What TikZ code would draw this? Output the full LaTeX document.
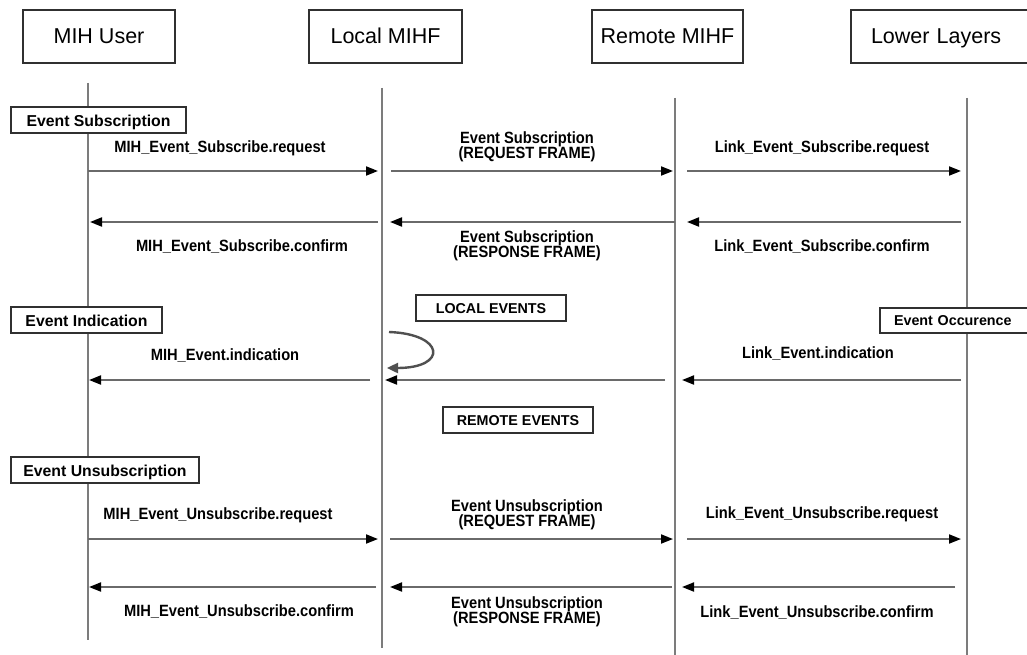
\documentclass[tikz,border=0pt]{standalone}
\usepackage{fontspec}
\setmainfont{Liberation Sans}
\newfontfamily\msgfont[FakeStretch=0.9]{Liberation Sans}
\usetikzlibrary{arrows.meta}

\definecolor{lifegray}{HTML}{7C7C7C}
\definecolor{linegray}{HTML}{6A6A6A}
\definecolor{boxline}{HTML}{303030}
\definecolor{loopgray}{HTML}{505050}

\begin{document}
\begin{tikzpicture}[x=1pt,y=-1pt,
  header/.style={draw=boxline,line width=2pt,fill=white,inner ysep=0pt,inner xsep=0pt,
    text height=17pt,text depth=3pt,
    minimum height=53pt,font=\fontsize{21.5}{25}\selectfont},
  section/.style={draw=boxline,line width=2pt,fill=white,inner sep=0pt,
    text height=14pt,text depth=1.5pt,
    minimum height=26pt,font=\fontsize{15.8}{18}\selectfont\bfseries},
  tag/.style={section,text height=12pt,text depth=2pt,
    font=\fontsize{14.3}{17}\selectfont\bfseries},
  lbl/.style={inner sep=0pt,align=center,font=\msgfont\bfseries\fontsize{16.3}{15.5}\selectfont},
  lifeline/.style={draw=lifegray,line width=1.8pt},
  msg/.style={draw=linegray,line width=1.8pt,
    -{Triangle[length=12pt,width=9pt,color=black]}},
  loopmsg/.style={draw=loopgray,line width=2.4pt,
    -{Triangle[length=11pt,width=10pt]}}]
\useasboundingbox (0,0) rectangle (1027,655);
\fill[white] (0,0) rectangle (1027,655);

% participants
\node[header,minimum width=152pt] (user)   at (99,36.5)    {MIH User};
\node[header,minimum width=153pt] (local)  at (385.5,36.5) {Local MIHF};
\node[header,minimum width=151pt] (remote) at (667.5,36.5) {Remote MIHF};
\node[header,anchor=west,text width=170pt,align=left,inner xsep=20pt]
  (lower) at (850,36.5) {Lower Layers};

% lifelines
\coordinate (uT) at (88,83);   \coordinate (uB) at (88,640);
\coordinate (lT) at (382,88);  \coordinate (lB) at (382,648);
\coordinate (rT) at (675,98);  \coordinate (rB) at (675,660);
\coordinate (wT) at (967,98);  \coordinate (wB) at (967,660);
\draw[lifeline] (uT) -- (uB);
\draw[lifeline] (lT) -- (lB);
\draw[lifeline] (rT) -- (rB);
\draw[lifeline] (wT) -- (wB);

% phase boxes
\node[section,minimum width=175pt] (subs)   at (98.5,120) {Event Subscription};
\node[section,minimum width=151pt] (indic)  at (86.5,320) {Event Indication};
\node[section,minimum width=188pt] (unsubs) at (105,470)  {Event Unsubscription};
\node[tag,minimum width=150pt] (locev) at (491,308) {LOCAL EVENTS};
\node[tag,minimum width=150pt] (remev) at (518,420) {REMOTE EVENTS};
\node[tag,anchor=west,text width=160pt,align=left,inner xsep=14pt,minimum height=25pt]
  (occur) at (879,320.5) {Event Occurence};

% subscription request
\coordinate (a1) at (88,171);  \coordinate (a2) at (378,171);
\coordinate (a3) at (391,171); \coordinate (a4) at (673,171);
\coordinate (a5) at (687,171); \coordinate (a6) at (961,171);
\draw[msg] (a1) -- (a2);
\draw[msg] (a3) -- (a4);
\draw[msg] (a5) -- (a6);
\node[lbl] (t1a) at (220,148) {MIH\_Event\_Subscribe.request};
\node[lbl] (t1b) at (527,147) {Event Subscription\\(REQUEST FRAME)};
\node[lbl] (t1c) at (822,148) {Link\_Event\_Subscribe.request};

% subscription confirm
\coordinate (b1) at (378,222); \coordinate (b2) at (90,222);
\coordinate (b3) at (675,222); \coordinate (b4) at (390,222);
\coordinate (b5) at (961,222); \coordinate (b6) at (687,222);
\draw[msg] (b1) -- (b2);
\draw[msg] (b3) -- (b4);
\draw[msg] (b5) -- (b6);
\node[lbl] (t2a) at (242,247) {MIH\_Event\_Subscribe.confirm};
\node[lbl] (t2b) at (527,246) {Event Subscription\\(RESPONSE FRAME)};
\node[lbl] (t2c) at (822,247) {Link\_Event\_Subscribe.confirm};

% event indication
\coordinate (c1) at (370,380); \coordinate (c2) at (89,380);
\coordinate (c3) at (665,380); \coordinate (c4) at (385,380);
\coordinate (c5) at (961,380); \coordinate (c6) at (682,380);
\draw[msg] (c1) -- (c2);
\draw[msg] (c3) -- (c4);
\draw[msg] (c5) -- (c6);
\coordinate (lp1) at (389,332); \coordinate (lp2) at (387,368);
\draw[loopmsg] (lp1) .. controls (445,334) and (448,368) .. (lp2);
\node[lbl] (t3a) at (225,356) {MIH\_Event.indication};
\node[lbl] (t3c) at (818,354) {Link\_Event.indication};

% unsubscription request
\coordinate (d1) at (88,539);  \coordinate (d2) at (378,539);
\coordinate (d3) at (390,539); \coordinate (d4) at (673,539);
\coordinate (d5) at (687,539); \coordinate (d6) at (961,539);
\draw[msg] (d1) -- (d2);
\draw[msg] (d3) -- (d4);
\draw[msg] (d5) -- (d6);
\node[lbl] (t4a) at (218,515) {MIH\_Event\_Unsubscribe.request};
\node[lbl] (t4b) at (527,515) {Event Unsubscription\\(REQUEST FRAME)};
\node[lbl] (t4c) at (822,514) {Link\_Event\_Unsubscribe.request};

% unsubscription confirm
\coordinate (e1) at (376,587); \coordinate (e2) at (89,587);
\coordinate (e3) at (672,587); \coordinate (e4) at (390,587);
\coordinate (e5) at (955,587); \coordinate (e6) at (682,587);
\draw[msg] (e1) -- (e2);
\draw[msg] (e3) -- (e4);
\draw[msg] (e5) -- (e6);
\node[lbl] (t5a) at (239,612) {MIH\_Event\_Unsubscribe.confirm};
\node[lbl] (t5b) at (527,612) {Event Unsubscription\\(RESPONSE FRAME)};
\node[lbl] (t5c) at (817,613) {Link\_Event\_Unsubscribe.confirm};
\end{tikzpicture}
\end{document}
